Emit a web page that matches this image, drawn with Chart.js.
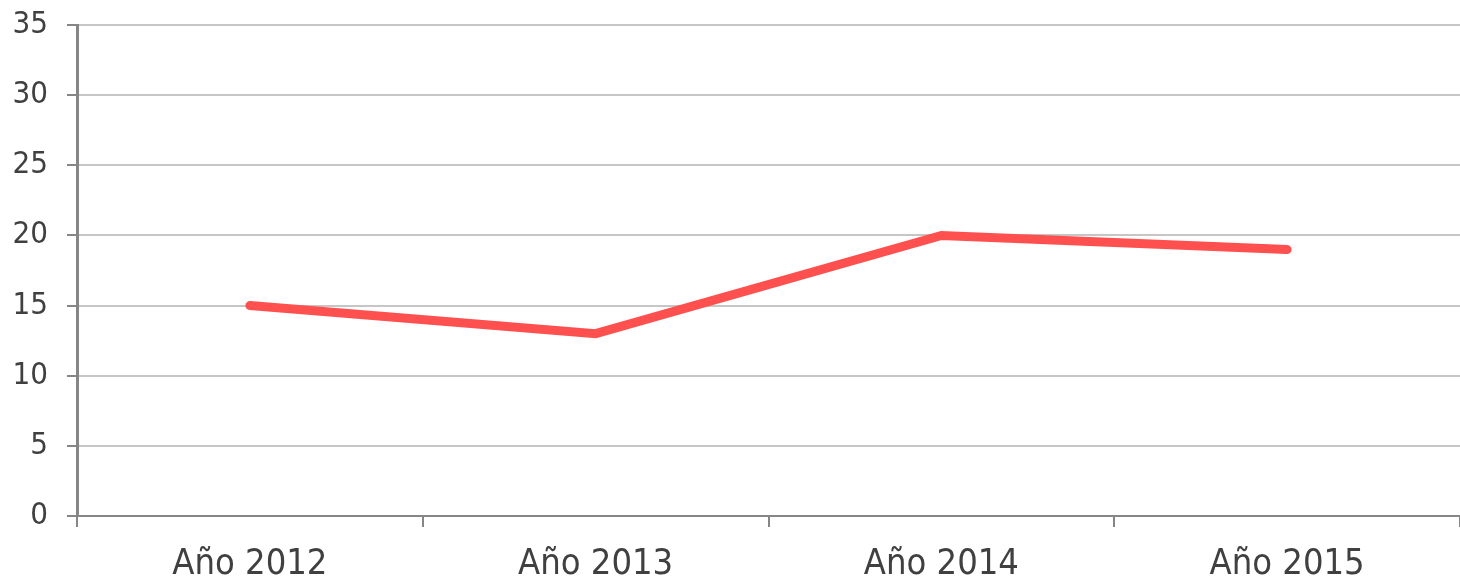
<!DOCTYPE html>
<html>
<head>
<meta charset="utf-8">
<script src="https://cdn.jsdelivr.net/npm/chart.js@4"></script>
<style>
    html, body { margin: 0; padding: 0; background: #fff; }
    #wrap { width: 1460px; height: 583px; }
</style>
</head>
<body>
<div id="wrap"><canvas id="grafica" width="1460" height="583"></canvas></div>
<script>
// Datos de la gráfica
const categorias = ['Año 2012', 'Año 2013', 'Año 2014', 'Año 2015'];
const valores = [15, 13, 20, 19];
const ejeY = { min: 0, max: 35, paso: 5 };

const colorTexto = '#404040';
const colorEje = '#868686';
const colorRejilla = '#c6c6c6';
const fuente = '"DejaVu Sans Condensed", "Liberation Sans", sans-serif';

new Chart(document.getElementById('grafica'), {
    type: 'line',
    data: {
        labels: categorias,
        datasets: [{
            data: valores,
            borderColor: '#ff5050',
            borderWidth: 9,
            borderCapStyle: 'round',
            borderJoinStyle: 'miter',
            pointRadius: 0,
            tension: 0,
            fill: false
        }]
    },
    options: {
        responsive: false,
        animation: false,
        layout: { padding: { top: 25, right: 0, left: 0, bottom: 0 } },
        plugins: { legend: { display: false }, tooltip: { enabled: false } },
        scales: {
            x: {
                offset: true,
                grid: {
                    offset: true,
                    drawOnChartArea: false,
                    tickLength: 11,
                    tickColor: colorEje,
                    lineWidth: 2
                },
                border: { color: colorEje, width: 2 },
                ticks: {
                    color: colorTexto,
                    padding: 16,
                    font: { family: fuente, size: 36 }
                },
                afterFit: s => { s.height = 67; }
            },
            y: {
                min: ejeY.min,
                max: ejeY.max,
                ticks: {
                    stepSize: ejeY.paso,
                    color: colorTexto,
                    padding: 19,
                    font: { family: fuente, size: 31 }
                },
                grid: {
                    color: colorRejilla,
                    lineWidth: 2,
                    tickLength: 10,
                    tickColor: colorEje
                },
                border: { color: colorEje, width: 3 },
                afterFit: s => {
                    s.width = 77;
                    // sin relleno extra arriba/abajo por las etiquetas
                    s.paddingTop = 0;
                    s.paddingBottom = 0;
                }
            }
        }
    }
});
</script>
</body>
</html>
